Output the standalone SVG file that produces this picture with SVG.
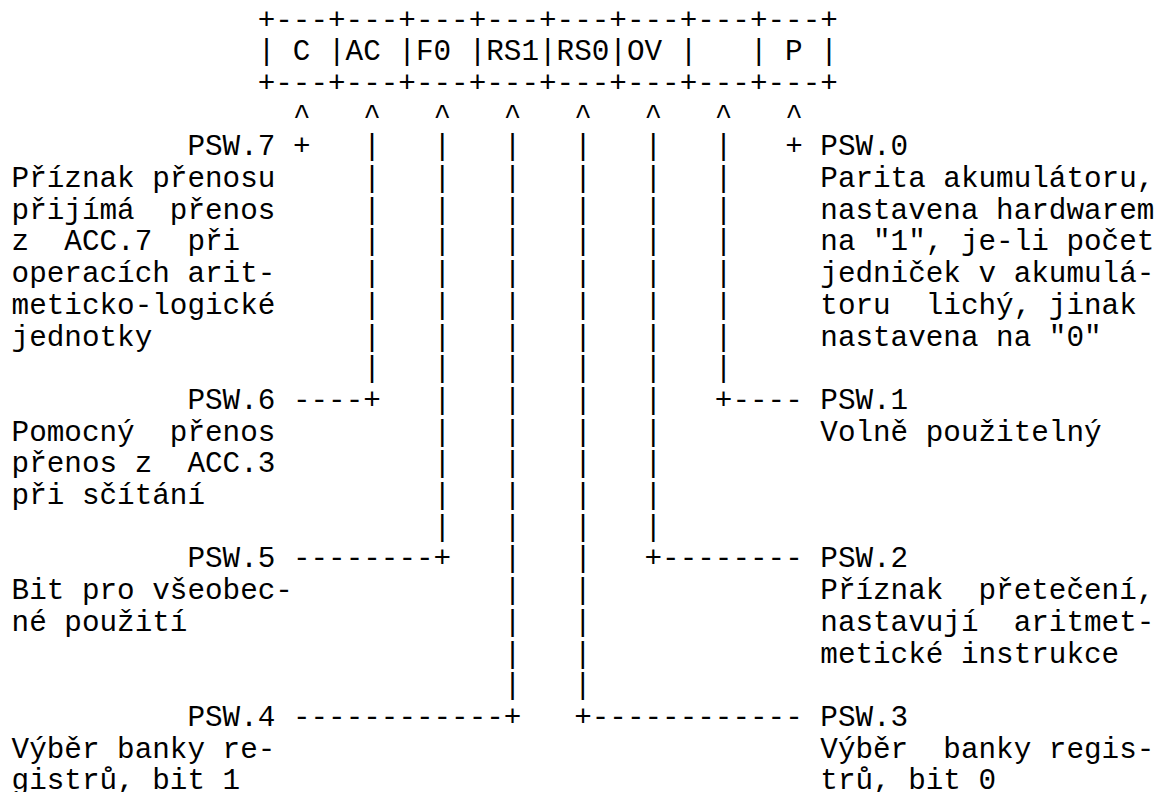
<svg xmlns="http://www.w3.org/2000/svg" width="1158" height="792" viewBox="0 0 1158 792" xml:space="preserve">
<style>
text { font-family: "Liberation Mono", "DejaVu Sans Mono", monospace; font-size: 29.3px; fill: #000; white-space: pre; }
</style>
<rect width="1158" height="792" fill="#fff"/>
<g id="psw-register">
<text x="257.7" y="28.5">+---+---+---+---+---+---+---+---+</text>
<text x="257.7" y="60.2">| C |AC |F0 |RS1|RS0|OV |   | P |</text>
<text x="257.7" y="91.9">+---+---+---+---+---+---+---+---+</text>
</g>
<g id="connectors">
<text x="292.9" y="123.6">^   ^   ^   ^   ^   ^   ^   ^</text>
<text x="292.9" y="155.3">+   |   |   |   |   |   |   +</text>
<text x="363.2" y="187">|   |   |   |   |   |</text>
<text x="363.2" y="218.7">|   |   |   |   |   |</text>
<text x="363.2" y="250.4">|   |   |   |   |   |</text>
<text x="363.2" y="282.1">|   |   |   |   |   |</text>
<text x="363.2" y="313.8">|   |   |   |   |   |</text>
<text x="363.2" y="345.5">|   |   |   |   |   |</text>
<text x="363.2" y="377.2">|   |   |   |   |   |</text>
<text x="292.9" y="408.9">----+   |   |   |   |   +----</text>
<text x="433.5" y="440.6">|   |   |   |</text>
<text x="433.5" y="472.3">|   |   |   |</text>
<text x="433.5" y="504">|   |   |   |</text>
<text x="433.5" y="535.7">|   |   |   |</text>
<text x="292.9" y="567.4">--------+   |   |   +--------</text>
<text x="503.8" y="599.1">|   |</text>
<text x="503.8" y="630.8">|   |</text>
<text x="503.8" y="662.5">|   |</text>
<text x="503.8" y="694.2">|   |</text>
<text x="292.9" y="725.9">------------+   +------------</text>
</g>
<g id="psw7">
<text x="187.4" y="155.3">PSW.7</text>
<text x="11.6" y="187">Příznak přenosu</text>
<text x="11.6" y="218.7">přijímá  přenos</text>
<text x="11.6" y="250.4">z  ACC.7  při</text>
<text x="11.6" y="282.1">operacích arit-</text>
<text x="11.6" y="313.8">meticko-logické</text>
<text x="11.6" y="345.5">jednotky</text>
</g>
<g id="psw0">
<text x="820.3" y="155.3">PSW.0</text>
<text x="820.3" y="187">Parita akumulátoru,</text>
<text x="820.3" y="218.7">nastavena hardwarem</text>
<text x="820.3" y="250.4">na "1", je-li počet</text>
<text x="820.3" y="282.1">jedniček v akumulá-</text>
<text x="820.3" y="313.8">toru  lichý, jinak</text>
<text x="820.3" y="345.5">nastavena na "0"</text>
</g>
<g id="psw6">
<text x="187.4" y="408.9">PSW.6</text>
<text x="11.6" y="440.6">Pomocný  přenos</text>
<text x="11.6" y="472.3">přenos z  ACC.3</text>
<text x="11.6" y="504">při sčítání</text>
</g>
<g id="psw1">
<text x="820.3" y="408.9">PSW.1</text>
<text x="820.3" y="440.6">Volně použitelný</text>
</g>
<g id="psw5">
<text x="187.4" y="567.4">PSW.5</text>
<text x="11.6" y="599.1">Bit pro všeobec-</text>
<text x="11.6" y="630.8">né použití</text>
</g>
<g id="psw2">
<text x="820.3" y="567.4">PSW.2</text>
<text x="820.3" y="599.1">Příznak  přetečení,</text>
<text x="820.3" y="630.8">nastavují  aritmet-</text>
<text x="820.3" y="662.5">metické instrukce</text>
</g>
<g id="psw4">
<text x="187.4" y="725.9">PSW.4</text>
<text x="11.6" y="757.6">Výběr banky re-</text>
<text x="11.6" y="789.3">gistrů, bit 1</text>
</g>
<g id="psw3">
<text x="820.3" y="725.9">PSW.3</text>
<text x="820.3" y="757.6">Výběr  banky regis-</text>
<text x="820.3" y="789.3">trů, bit 0</text>
</g>
</svg>
